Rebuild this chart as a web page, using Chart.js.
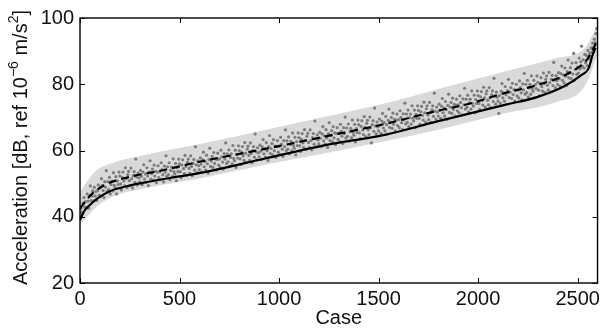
<!DOCTYPE html>
<html>
<head>
<meta charset="utf-8">
<script src="https://cdn.jsdelivr.net/npm/chart.js@4.4.1/dist/chart.umd.min.js"></script>
<style>
  html, body { margin: 0; padding: 0; background: #fff; }
  #wrap { width: 604px; height: 330px; }
</style>
</head>
<body>
<div id="wrap"><canvas id="graph" width="604" height="330"></canvas></div>
<script>
// axis ticks
var xTicks = [0, 500, 1000, 1500, 2000, 2500];
var yTicks = [20, 40, 60, 80, 100];

// solid line (lower curve)
var solidCases = [0, 20, 40, 90, 150, 240, 320, 490, 620, 930, 1240, 1530, 1790, 1960, 2130, 2300, 2430, 2520, 2555, 2575, 2590];
var solidVals  = [39.0, 41.6, 43.0, 45.6, 47.7, 49.3, 50.3, 52.1, 53.4, 57.6, 61.7, 64.7, 68.7, 71.2, 73.7, 76.2, 79.3, 82.8, 84.8, 88.8, 91.0];

// dashed line
var dashCases = [0, 10, 55, 125, 240, 405, 600, 930, 1245, 1530, 1790, 1960, 2130, 2300, 2470, 2545, 2580, 2600];
var dashVals  = [42.5, 43.3, 46.6, 49.6, 51.9, 53.9, 56.6, 60.5, 64.4, 68.0, 71.9, 74.2, 77.3, 79.8, 83.8, 87.3, 90.9, 93.4];

// shaded band
var bandCases = [0, 75, 155, 320, 620, 930, 1200, 1530, 1800, 2130, 2385, 2535, 2590, 2600];
var bandHigh  = [47.5, 53.6, 56.1, 58.6, 62.2, 66.2, 69.8, 74.2, 78.6, 83.8, 87.8, 90.9, 96.5, 97.5];
var bandLow   = [37.5, 42.6, 45.8, 48.5, 51.8, 55.7, 58.8, 62.8, 66.3, 71.2, 74.5, 79.3, 87.3, 89.0];

// grey dots, one every 4 cases (rows of 100 cases)
var dotStep = 4;
var dotVals = [
  40.2,42.5,41.4,40.9,44.1,45.8,42.9,44.6,42.8,46.9,44.7,42.6,46.4,49.3,44.9,46.3,47.8,44.8,48.9,46.2,47.6,44.9,47.9,49.6,46.5,
  48.7,46.3,51.5,49.5,47.9,45.8,50.6,48.9,53.9,47.7,50.6,48.2,51.9,46.9,49.7,50.8,47.8,53.3,49.5,48.8,52.1,46.9,50.8,49.7,53.5,
  52.3,49.9,48.1,51.9,53.5,50.8,49.3,54.8,51.5,48.8,52.7,53.7,50.9,49.4,54.7,51.5,48.7,52.4,53.6,50.4,57.4,52.0,49.6,53.2,51.7,
  50.5,54.0,52.2,49.7,53.5,55.7,51.4,52.9,50.4,54.8,52.3,49.4,53.5,56.9,51.4,53.0,54.4,51.1,55.6,52.3,53.7,50.3,53.5,55.4,51.8,
  53.6,51.2,56.3,54.2,52.7,50.5,55.3,53.5,58.4,52.2,55.1,52.7,56.3,51.2,54.0,55.0,52.1,57.5,53.6,52.9,56.1,50.9,54.8,53.6,57.4,
  56.0,53.6,51.8,55.6,57.2,54.5,53.0,58.5,55.2,52.5,56.4,57.4,54.6,53.1,58.4,55.2,52.4,56.1,57.3,54.1,61.1,55.7,53.3,56.9,55.4,
  54.2,57.8,55.9,53.5,57.2,59.5,55.1,56.7,54.1,58.6,56.0,53.2,57.3,60.7,55.2,56.8,58.2,54.9,59.4,56.1,57.5,54.1,57.3,59.2,55.6,
  57.4,55.0,60.1,58.1,56.5,54.4,59.1,57.4,62.3,56.1,59.0,56.6,60.2,55.2,57.9,59.0,56.0,61.5,57.6,56.9,60.1,54.9,58.8,57.7,61.4,
  60.0,57.5,55.8,59.5,61.2,58.4,57.0,62.4,59.2,56.4,60.4,61.3,58.5,57.0,62.3,59.1,56.3,60.0,61.2,58.0,65.0,59.6,57.2,60.8,59.3,
  58.1,61.6,59.8,57.3,61.1,63.3,59.0,60.5,58.0,62.4,59.9,57.0,61.2,64.5,59.1,60.6,62.1,58.7,63.3,59.9,61.4,57.9,61.2,63.0,59.5,
  61.3,58.8,64.0,61.9,60.4,58.2,63.0,61.2,66.2,59.9,62.9,60.4,64.1,59.0,61.8,62.8,59.9,65.3,61.5,60.7,64.0,58.7,62.7,61.5,65.3,
  63.9,61.4,59.7,63.4,65.1,62.3,60.9,66.3,63.1,60.3,64.3,65.2,62.4,60.9,66.2,63.0,60.2,63.9,65.1,61.9,68.9,63.5,61.1,64.7,63.2,
  62.0,65.5,63.7,61.2,65.0,67.2,62.9,64.4,61.9,66.3,63.8,60.9,65.1,68.4,63.0,64.5,66.0,62.6,67.2,63.8,65.3,61.8,65.1,66.9,63.4,
  65.2,62.7,67.9,65.8,64.3,62.1,66.9,65.1,70.1,63.8,66.8,64.3,68.0,62.9,65.7,66.7,63.8,69.2,65.4,64.6,67.9,62.6,66.6,65.4,69.2,
  67.8,65.3,63.6,67.3,69.0,66.2,64.8,70.2,67.0,64.2,68.2,69.1,66.3,64.8,70.1,66.9,62.3,67.8,69.0,65.8,72.8,67.4,65.0,68.6,67.1,
  65.9,69.5,67.6,65.2,68.9,71.2,66.8,68.4,65.9,70.3,67.8,64.9,69.1,72.5,67.0,68.6,70.0,66.7,71.3,67.9,69.4,65.9,69.2,71.0,67.5,
  69.3,66.9,72.0,70.0,68.4,66.3,71.1,69.3,74.3,68.0,71.0,68.5,72.2,67.2,69.9,71.0,68.0,73.5,69.7,68.9,72.2,66.9,70.9,69.7,73.5,
  72.1,69.7,67.9,71.7,73.3,70.6,69.2,74.6,71.4,68.6,72.6,73.5,70.7,69.3,74.5,71.4,68.5,72.3,73.5,70.3,77.3,71.9,69.5,73.1,71.6,
  70.4,74.0,72.1,69.7,73.4,75.7,71.4,72.9,70.4,74.8,72.3,69.4,73.6,77.0,71.5,73.1,74.5,71.2,75.8,72.4,73.9,70.4,73.7,75.5,72.0,
  73.8,71.4,76.5,74.5,72.9,70.8,75.6,73.8,78.8,72.5,75.5,73.0,76.7,71.7,74.4,75.5,72.5,78.0,74.2,73.4,76.7,71.4,75.4,74.2,78.0,
  76.6,74.2,72.4,76.2,77.8,75.1,73.7,79.1,75.9,73.1,77.1,78.0,75.2,73.8,79.0,75.9,73.0,76.8,78.0,74.8,81.8,76.4,74.0,77.6,76.1,
  74.9,71.2,76.6,74.2,77.9,80.2,75.9,77.4,74.9,79.3,76.8,73.9,78.1,81.5,76.0,77.6,79.0,75.7,80.3,76.9,78.4,74.9,78.2,80.0,76.5,
  78.3,75.9,81.0,79.0,77.4,75.3,80.1,78.3,83.3,77.0,80.0,77.5,81.2,76.2,78.9,80.0,77.0,82.5,78.7,77.9,81.2,75.9,79.9,78.7,82.5,
  80.6,78.2,76.5,80.3,82.0,79.3,77.9,83.4,80.2,77.5,81.5,82.5,79.7,78.3,83.6,80.5,77.7,81.5,82.7,79.6,86.6,81.3,78.9,82.6,81.1,
  79.9,83.5,81.7,79.4,83.2,85.5,81.2,82.8,80.4,84.9,82.4,79.6,83.8,87.3,81.9,83.5,85.0,81.7,86.4,83.1,89.3,81.2,84.5,86.5,83.0,
  85.2,83.4,87.9,84.6,86.8,91.5,85.3,87.4,84.9,89.0,86.5,88.7,85.6,90.2,87.7,89.4,88.2,91.0,89.6,92.4,91.1,93.6,92.5,95.3,96.8
];

function pts(xs, ys) {
  return xs.map(function(x, i) { return { x: x, y: ys[i] }; });
}
var dotPts = dotVals.map(function(v, i) { return { x: i * dotStep, y: v }; });

var FONT = '"Liberation Sans", Arial, Helvetica, sans-serif';

// box round the plot with inward ticks (matlab style)
var frame = {
	id: 'frame',
	afterDatasetsDraw: function(chart) {
		var ctx = chart.ctx, a = chart.chartArea, sx = chart.scales.x, sy = chart.scales.y;
		ctx.save();
		ctx.strokeStyle = '#000';
		ctx.lineWidth = 1.4;
		ctx.strokeRect(a.left, a.top, a.right - a.left, a.bottom - a.top);
		ctx.lineWidth = 1;
		ctx.beginPath();
		sx.ticks.forEach(function(t) {
			var px = Math.round(sx.getPixelForValue(t.value)) + 0.5;
			ctx.moveTo(px, a.bottom); ctx.lineTo(px, a.bottom - 5);
			ctx.moveTo(px, a.top); ctx.lineTo(px, a.top + 5);
		});
		sy.ticks.forEach(function(t) {
			var py = Math.round(sy.getPixelForValue(t.value)) + 0.5;
			ctx.moveTo(a.left, py); ctx.lineTo(a.left + 5, py);
			ctx.moveTo(a.right, py); ctx.lineTo(a.right - 5, py);
		});
		ctx.stroke();
		ctx.restore();
	}
};

// y title with superscripts
var yTitle = {
	id: 'yTitle',
	afterDraw: function(chart) {
		var ctx = chart.ctx, a = chart.chartArea;
		var big = '20px ' + FONT, small = '14px ' + FONT;
		var parts = [
			['Acceleration [dB, ref 10', big, 0],
			['\u22126', small, -7],
			[' m/s', big, 0],
			['2', small, -7],
			[']', big, 0]
		];
		ctx.save();
		var total = 0;
		parts.forEach(function(p) { ctx.font = p[1]; p.push(ctx.measureText(p[0]).width); total += p[3]; });
		ctx.translate(21, (a.top + a.bottom) / 2 - 3);
		ctx.rotate(-Math.PI / 2);
		ctx.fillStyle = '#111';
		ctx.textBaseline = 'middle';
		ctx.textAlign = 'left';
		var x = -total / 2;
		parts.forEach(function(p) {
			ctx.font = p[1];
			ctx.fillText(p[0], x, p[2]);
			x += p[3];
		});
		ctx.restore();
	}
};

function plainLabel(v) { return String(v); }

var ctx = document.getElementById('graph');
var chart = new Chart(ctx, {
	type: 'scatter',
	data: {
		datasets: [
			{
				type: 'line', label: 'solid', data: pts(solidCases, solidVals),
				borderColor: '#000', borderWidth: 2.2, pointRadius: 0,
				cubicInterpolationMode: 'monotone', fill: false, order: 1
			},
			{
				type: 'line', label: 'dashed', data: pts(dashCases, dashVals),
				borderColor: '#000', borderWidth: 2.2, borderDash: [8, 5], pointRadius: 0,
				cubicInterpolationMode: 'monotone', fill: false, order: 2
			},
			{
				label: 'cases', data: dotPts,
				pointRadius: 1.6, pointBackgroundColor: '#7d7d7d', pointBorderWidth: 0,
				pointHoverRadius: 1.6, order: 3
			},
			{
				type: 'line', label: 'band high', data: pts(bandCases, bandHigh),
				borderWidth: 0, pointRadius: 0, cubicInterpolationMode: 'monotone',
				fill: '+1', backgroundColor: '#d9d9d9', order: 4
			},
			{
				type: 'line', label: 'band low', data: pts(bandCases, bandLow),
				borderWidth: 0, pointRadius: 0, cubicInterpolationMode: 'monotone',
				fill: false, order: 5
			}
		]
	},
	options: {
		responsive: false,
		animation: false,
		devicePixelRatio: 1,
		events: [],
		layout: { padding: { top: 18, right: 3, left: 0, bottom: 0 } },
		plugins: {
			legend: { display: false },
			tooltip: { enabled: false }
		},
		scales: {
			x: {
				type: 'linear', min: 0, max: 2600,
				grid: { display: false, drawTicks: false },
				border: { display: false },
				afterBuildTicks: function(s) { s.ticks = xTicks.map(function(v) { return { value: v }; }); },
				afterFit: function(s) { s.height = 47; },
				ticks: { font: { family: FONT, size: 20 }, color: '#111', padding: 4, maxRotation: 0, callback: plainLabel },
				title: { display: true, text: 'Case', font: { family: FONT, size: 20 }, color: '#111', padding: { top: 0, bottom: 0 } }
			},
			y: {
				type: 'linear', min: 20, max: 100,
				grid: { display: false, drawTicks: false },
				border: { display: false },
				afterBuildTicks: function(s) { s.ticks = yTicks.map(function(v) { return { value: v }; }); },
				afterFit: function(s) { s.width = 80; },
				ticks: { font: { family: FONT, size: 20 }, color: '#111', padding: 6, callback: plainLabel }
			}
		}
	},
	plugins: [frame, yTitle]
});
</script>
</body>
</html>
